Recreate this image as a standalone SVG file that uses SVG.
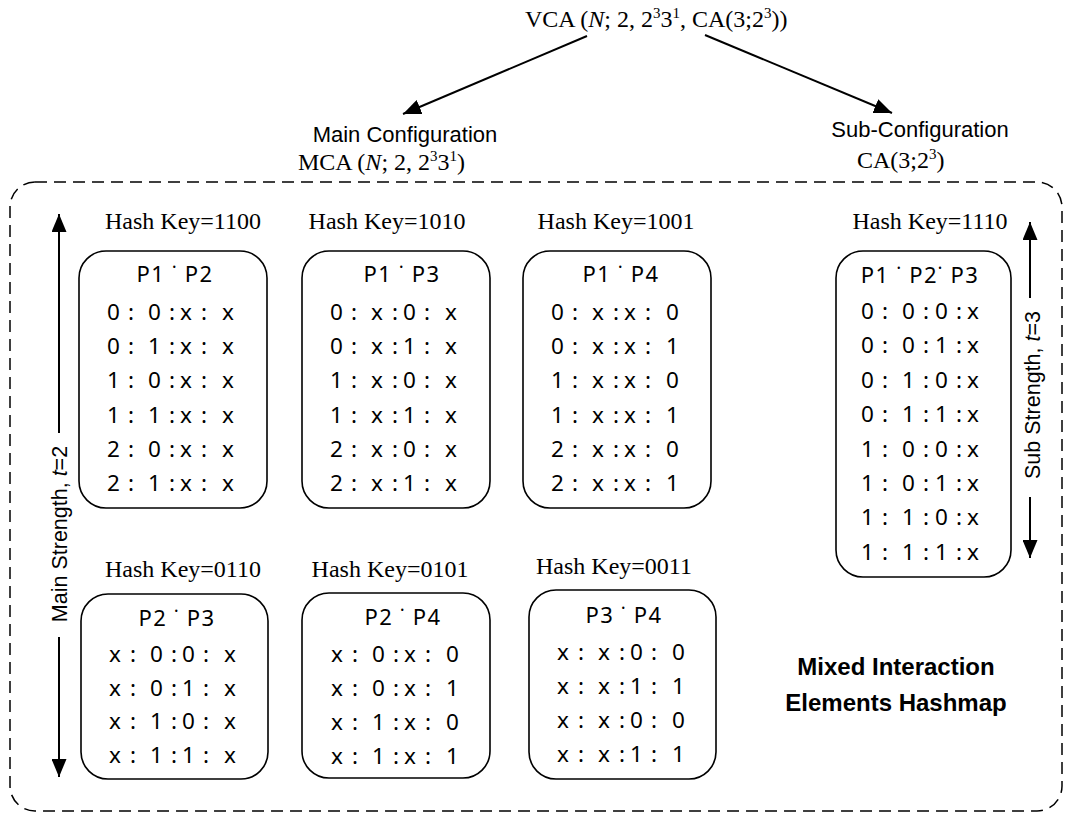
<svg xmlns="http://www.w3.org/2000/svg" width="1068" height="814" viewBox="0 0 1068 814">
<style>
.serif{font-family:"Liberation Serif","Times New Roman",serif;font-size:24px;fill:#000}
.sup{font-size:15px}
.lbl{font-family:"Liberation Sans",Arial,sans-serif;font-size:22px;fill:#000}
.rot{font-family:"Liberation Sans",Arial,sans-serif;font-size:21.5px;fill:#000}
.hk{font-family:"Liberation Serif","Times New Roman",serif;font-size:24px;fill:#000;text-anchor:middle}
.hdr{font-family:"Noto Sans","Liberation Sans",sans-serif;font-size:22px;fill:#000;text-anchor:middle;letter-spacing:1.4px}
.row{font-family:"Noto Sans","Liberation Sans",sans-serif;font-size:22.5px;fill:#000}
.box{fill:#fff;stroke:#000;stroke-width:1.6}
.conn{stroke:#000;stroke-width:2;fill:none}
.border{fill:none;stroke:#000;stroke-width:1.5;stroke-dasharray:12 7}
.bold{font-family:"Liberation Sans",Arial,sans-serif;font-size:24px;font-weight:bold;fill:#000;text-anchor:middle}
</style>
<defs>
<marker id="ah" markerUnits="userSpaceOnUse" markerWidth="18" markerHeight="15" viewBox="0 0 18 15" refX="18" refY="7.5" orient="auto">
<path d="M0,0 L18,7.5 L0,15 z" fill="#000"/>
</marker>
</defs>

<g id="vca">
<text class="serif" x="525" y="27">VCA (<tspan font-style="italic">N</tspan>; 2, 2<tspan class="sup" dy="-9">3</tspan><tspan dy="9">3</tspan><tspan class="sup" dy="-9">1</tspan><tspan dy="9">, CA(3;2</tspan><tspan class="sup" dy="-9">3</tspan><tspan dy="9">))</tspan></text>
</g>

<g id="main-config">
<text class="lbl" x="405" y="142" text-anchor="middle">Main Configuration</text>
<text class="serif" x="298" y="170">MCA (<tspan font-style="italic">N</tspan>; 2, 2<tspan class="sup" dy="-9">3</tspan><tspan dy="9">3</tspan><tspan class="sup" dy="-9">1</tspan><tspan dy="9">)</tspan></text>
</g>

<g id="sub-config">
<text class="lbl" x="920" y="137" text-anchor="middle">Sub-Configuration</text>
<text class="serif" x="857" y="168">CA(3;2<tspan class="sup" dy="-9">3</tspan><tspan dy="9">)</tspan></text>
</g>

<g id="hashmap">
<rect class="border" x="10" y="182" width="1052" height="629" rx="25" ry="25"/>
<text class="bold" x="896" y="675">Mixed Interaction</text>
<text class="bold" x="896" y="711">Elements Hashmap</text>
</g>

<g id="connectors">
<line class="conn" x1="587" y1="36" x2="403" y2="114" marker-end="url(#ah)"/>
<line class="conn" x1="705" y1="35" x2="892" y2="113" marker-end="url(#ah)"/>
<line class="conn" x1="59" y1="433" x2="59" y2="214" marker-end="url(#ah)"/>
<line class="conn" x1="59" y1="637" x2="59" y2="777" marker-end="url(#ah)"/>
<line class="conn" x1="1030" y1="298" x2="1030" y2="222" marker-end="url(#ah)"/>
<line class="conn" x1="1030" y1="497" x2="1030" y2="558" marker-end="url(#ah)"/>
<text class="rot" transform="translate(67,534) rotate(-90)" text-anchor="middle">Main Strength, <tspan font-style="italic">t</tspan>=2</text>
<text class="rot" transform="translate(1040,395) rotate(-90)" text-anchor="middle">Sub Strength, <tspan font-style="italic">t</tspan>=3</text>
</g>

<g id="p1p2">
<text class="hk" x="183" y="229">Hash Key=1100</text>
<rect class="box" x="79" y="251" width="188" height="257" rx="27" ry="27"/>
<text class="hdr" x="175" y="282">P1 ˙ P2</text>
<text class="row" x="107 128 134 148 169 180 201 207 222" y="320">0: 0:x: x</text>
<text class="row" x="107 128 134 148 169 180 201 207 222" y="354">0: 1:x: x</text>
<text class="row" x="107 128 134 148 169 180 201 207 222" y="388">1: 0:x: x</text>
<text class="row" x="107 128 134 148 169 180 201 207 222" y="423">1: 1:x: x</text>
<text class="row" x="107 128 134 148 169 180 201 207 222" y="457">2: 0:x: x</text>
<text class="row" x="107 128 134 148 169 180 201 207 222" y="491">2: 1:x: x</text>
</g>

<g id="p1p3">
<text class="hk" x="387" y="229">Hash Key=1010</text>
<rect class="box" x="302" y="251" width="188" height="257" rx="27" ry="27"/>
<text class="hdr" x="402" y="282">P1 ˙ P3</text>
<text class="row" x="330 351 357 371 392 403 424 430 445" y="320">0: x:0: x</text>
<text class="row" x="330 351 357 371 392 403 424 430 445" y="354">0: x:1: x</text>
<text class="row" x="330 351 357 371 392 403 424 430 445" y="388">1: x:0: x</text>
<text class="row" x="330 351 357 371 392 403 424 430 445" y="423">1: x:1: x</text>
<text class="row" x="330 351 357 371 392 403 424 430 445" y="457">2: x:0: x</text>
<text class="row" x="330 351 357 371 392 403 424 430 445" y="491">2: x:1: x</text>
</g>

<g id="p1p4">
<text class="hk" x="616" y="229">Hash Key=1001</text>
<rect class="box" x="523" y="251" width="188" height="257" rx="27" ry="27"/>
<text class="hdr" x="621" y="282">P1 ˙ P4</text>
<text class="row" x="551 572 578 592 613 624 645 651 666" y="320">0: x:x: 0</text>
<text class="row" x="551 572 578 592 613 624 645 651 666" y="354">0: x:x: 1</text>
<text class="row" x="551 572 578 592 613 624 645 651 666" y="388">1: x:x: 0</text>
<text class="row" x="551 572 578 592 613 624 645 651 666" y="423">1: x:x: 1</text>
<text class="row" x="551 572 578 592 613 624 645 651 666" y="457">2: x:x: 0</text>
<text class="row" x="551 572 578 592 613 624 645 651 666" y="491">2: x:x: 1</text>
</g>

<g id="p1p2p3">
<text class="hk" x="930" y="229">Hash Key=1110</text>
<rect class="box" x="836" y="251" width="175" height="326" rx="27" ry="27"/>
<text class="hdr" x="920" y="283">P1 ˙ P2˙ P3</text>
<text class="row" x="861 882 888 902 923 935 956 967" y="319">0: 0:0:x</text>
<text class="row" x="861 882 888 902 923 935 956 967" y="353">0: 0:1:x</text>
<text class="row" x="861 882 888 902 923 935 956 967" y="388">0: 1:0:x</text>
<text class="row" x="861 882 888 902 923 935 956 967" y="422">0: 1:1:x</text>
<text class="row" x="861 882 888 902 923 935 956 967" y="457">1: 0:0:x</text>
<text class="row" x="861 882 888 902 923 935 956 967" y="491">1: 0:1:x</text>
<text class="row" x="861 882 888 902 923 935 956 967" y="525">1: 1:0:x</text>
<text class="row" x="861 882 888 902 923 935 956 967" y="560">1: 1:1:x</text>
</g>

<g id="p2p3">
<text class="hk" x="183" y="577">Hash Key=0110</text>
<rect class="box" x="81" y="594" width="187" height="185" rx="27" ry="27"/>
<text class="hdr" x="177" y="626">P2 ˙ P3</text>
<text class="row" x="109 130 136 150 171 182 203 209 224" y="662">x: 0:0: x</text>
<text class="row" x="109 130 136 150 171 182 203 209 224" y="696">x: 0:1: x</text>
<text class="row" x="109 130 136 150 171 182 203 209 224" y="729">x: 1:0: x</text>
<text class="row" x="109 130 136 150 171 182 203 209 224" y="763">x: 1:1: x</text>
</g>

<g id="p2p4">
<text class="hk" x="390" y="577">Hash Key=0101</text>
<rect class="box" x="302" y="593" width="188" height="185" rx="27" ry="27"/>
<text class="hdr" x="403" y="625">P2 ˙ P4</text>
<text class="row" x="331 352 358 372 393 404 425 431 446" y="662">x: 0:x: 0</text>
<text class="row" x="331 352 358 372 393 404 425 431 446" y="696">x: 0:x: 1</text>
<text class="row" x="331 352 358 372 393 404 425 431 446" y="730">x: 1:x: 0</text>
<text class="row" x="331 352 358 372 393 404 425 431 446" y="764">x: 1:x: 1</text>
</g>

<g id="p3p4">
<text class="hk" x="614" y="574">Hash Key=0011</text>
<rect class="box" x="529" y="590" width="187" height="189" rx="27" ry="27"/>
<text class="hdr" x="624" y="623">P3 ˙ P4</text>
<text class="row" x="557 578 584 598 619 630 651 657 672" y="660">x: x:0: 0</text>
<text class="row" x="557 578 584 598 619 630 651 657 672" y="694">x: x:1: 1</text>
<text class="row" x="557 578 584 598 619 630 651 657 672" y="728">x: x:0: 0</text>
<text class="row" x="557 578 584 598 619 630 651 657 672" y="762">x: x:1: 1</text>
</g>
</svg>
